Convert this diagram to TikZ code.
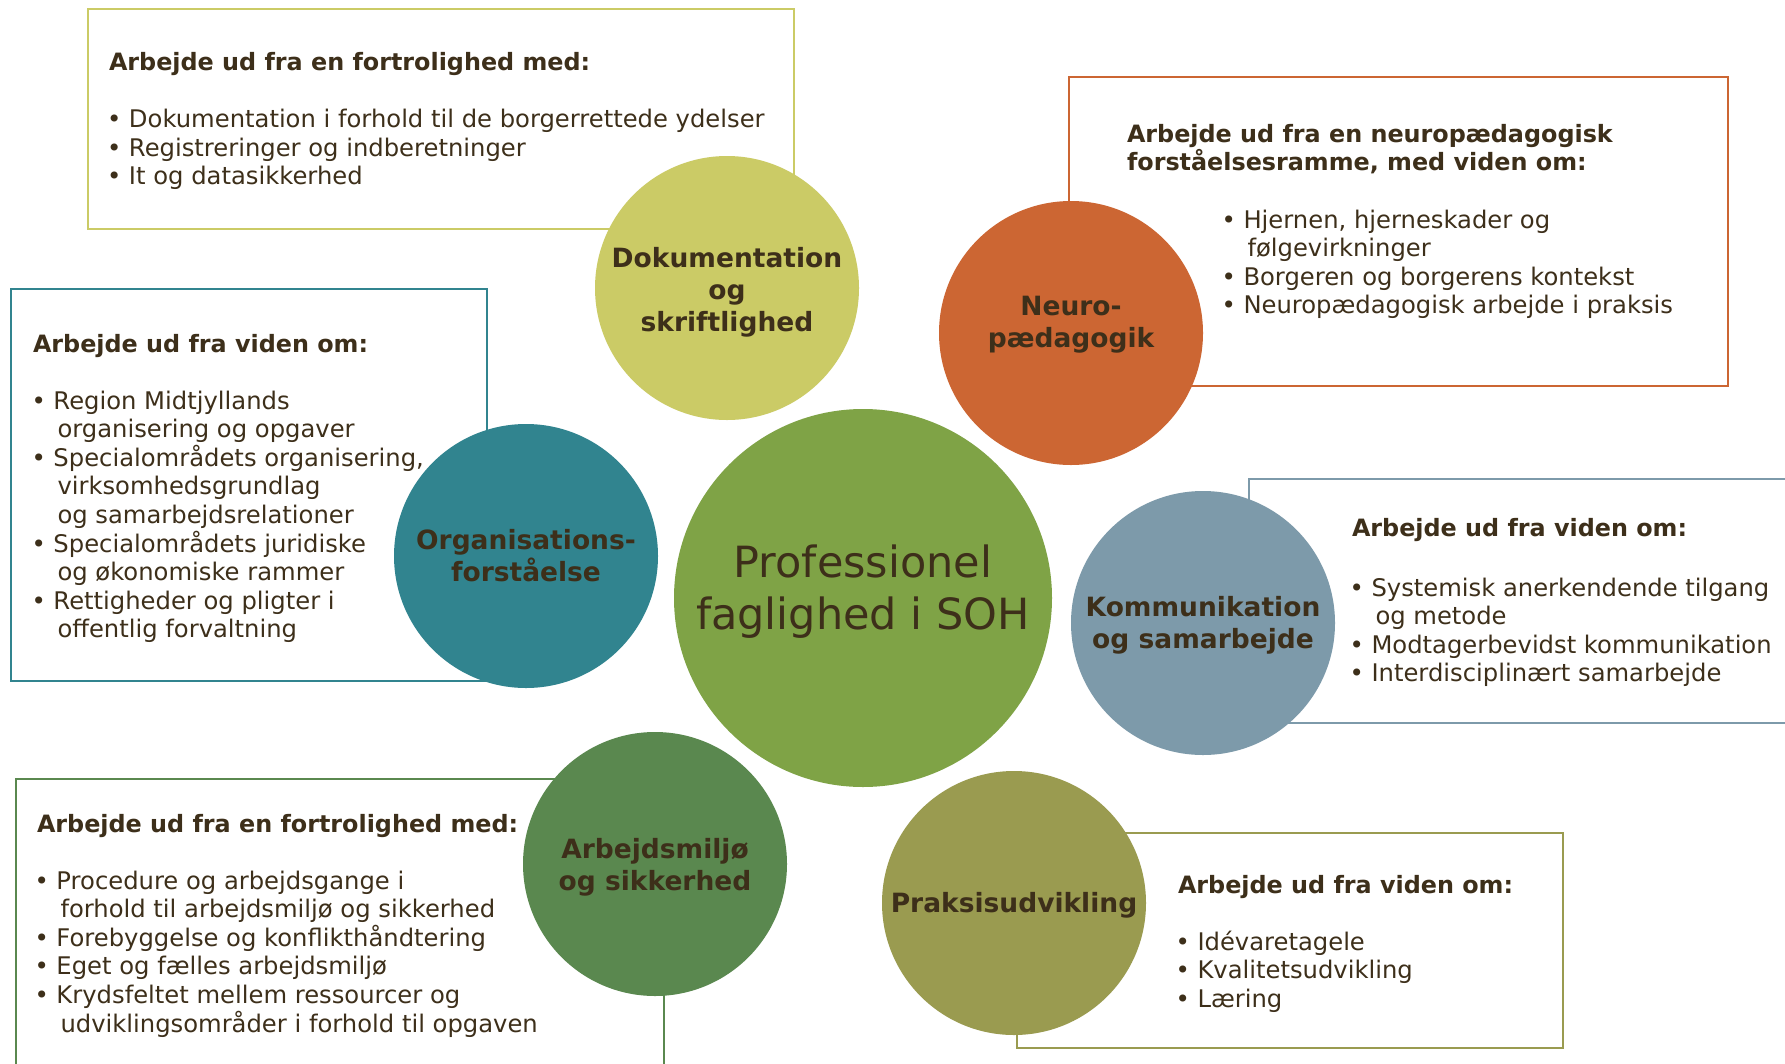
\documentclass[tikz,border=0pt]{standalone}
\usepackage{fontspec}
\setmainfont{DejaVu Sans}
\definecolor{txt}{HTML}{3D2F1A}
\definecolor{cdok}{HTML}{CBCB66}
\definecolor{cneuro}{HTML}{CC6633}
\definecolor{corg}{HTML}{31848F}
\definecolor{ccenter}{HTML}{7FA346}
\definecolor{ckomm}{HTML}{7D9AAA}
\definecolor{carb}{HTML}{5A884F}
\definecolor{cprak}{HTML}{9A9B50}
\newcommand{\fl}{\rule{0pt}{20pt}}
\newcommand{\ind}{\hspace*{26pt}}
\begin{document}
\begin{tikzpicture}[x=1pt,y=-1pt,
  infobox/.style={line width=2pt},
  bubble/.style={circle, inner sep=0pt, outer sep=0pt, minimum size=264pt},
  bubtext/.style={inner sep=0pt, outer sep=0pt, text=txt, align=center, font=\fontsize{26.5}{32}\selectfont\bfseries},
  head/.style={anchor=north west, inner sep=0pt, outer sep=0pt, text=txt, align=left, font=\fontsize{23.85}{28}\selectfont\bfseries},
  body/.style={anchor=north west, inner sep=0pt, outer sep=0pt, text=txt, align=left, font=\fontsize{24.25}{28.6}\selectfont},
]
\useasboundingbox (0,0) rectangle (1785,1063);
\clip (0,0) rectangle (1785,1063);
\fill[white] (0,0) rectangle (1785,1063);

% boxes
\draw[infobox, draw=cdok]   (88,9) rectangle (794,229);
\draw[infobox, draw=cneuro] (1069,77) rectangle (1728,386);
\draw[infobox, draw=corg]   (11,289) rectangle (487,681);
\draw[infobox, draw=carb]   (16,779) rectangle (664,1090);
\draw[infobox, draw=ckomm]  (1249,479) rectangle (1810,723);
\draw[infobox, draw=cprak]  (1017,833) rectangle (1563,1048);

% circles
\node[bubble, fill=cdok]   (dok)   at (727,288)  {};
\node[bubble, fill=cneuro] (neuro) at (1071,333) {};
\node[bubble, fill=corg]   (org)   at (526,556)  {};
\node[bubble, fill=ccenter, minimum size=378pt] (soh) at (863,598) {};
\node[bubble, fill=ckomm]  (komm)  at (1203,623) {};
\node[bubble, fill=carb]   (arb)   at (655,864)  {};
\node[bubble, fill=cprak]  (prak)  at (1014,903) {};

% circle labels
\node[bubtext] (dokt)   at ([yshift=-4pt]dok.center)    {Dokumentation\\og\\skriftlighed};
\node[bubtext] (neurot) at ([yshift=8.5pt]neuro.center) {Neuro-\\pædagogik};
\node[bubtext] (orgt)   at (org.center)                 {Organisations-\\forståelse};
\node[bubtext, font=\fontsize{43}{52}\selectfont] (soht) at ([yshift=6.3pt]soh.center) {Professionel\\faglighed i SOH};
\node[bubtext] (kommt)  at ([yshift=-2.3pt]komm.center) {Kommunikation\\og samarbejde};
\node[bubtext] (arbt)   at ([yshift=-3.4pt]arb.center)  {Arbejdsmiljø\\og sikkerhed};
\node[bubtext] (prakt)  at ([yshift=-2pt]prak.center)   {Praksisudvikling};

% box texts
\node[head] (h1) at (109,50.7) {\fl Arbejde ud fra en fortrolighed med:};
\node[body] (b1) at (107,107.7) {\fl • Dokumentation i forhold til de borgerrettede ydelser\\• Registreringer og indberetninger\\• It og datasikkerhed};

\node[head] (h2) at (1127,122) {\fl Arbejde ud fra en neuropædagogisk\\forståelsesramme, med viden om:};
\node[body] (b2) at (1221.5,208) {\fl • Hjernen, hjerneskader og\\\ind følgevirkninger\\• Borgeren og borgerens kontekst\\• Neuropædagogisk arbejde i praksis};

\node[head] (h3) at (33,332) {\fl Arbejde ud fra viden om:};
\node[body] (b3) at (31.5,389) {\fl • Region Midtjyllands\\\ind organisering og opgaver\\• Specialområdets organisering,\\\ind virksomhedsgrundlag\\\ind og samarbejdsrelationer\\• Specialområdets juridiske\\\ind og økonomiske rammer\\• Rettigheder og pligter i\\\ind offentlig forvaltning};

\node[head] (h4) at (37,812) {\fl Arbejde ud fra en fortrolighed med:};
\node[body] (b4) at (34.5,869) {\fl • Procedure og arbejdsgange i\\\ind forhold til arbejdsmiljø og sikkerhed\\• Forebyggelse og konflikthåndtering\\• Eget og fælles arbejdsmiljø\\• Krydsfeltet mellem ressourcer og\\\ind udviklingsområder i forhold til opgaven};

\node[head] (h5) at (1352,516) {\fl Arbejde ud fra viden om:};
\node[body] (b5) at (1349.5,576) {\fl • Systemisk anerkendende tilgang\\\ind og metode\\• Modtagerbevidst kommunikation\\• Interdisciplinært samarbejde};

\node[head] (h6) at (1178,873) {\fl Arbejde ud fra viden om:};
\node[body] (b6) at (1175.5,930) {\fl • Idévaretagele\\• Kvalitetsudvikling\\• Læring};
\end{tikzpicture}
\end{document}
